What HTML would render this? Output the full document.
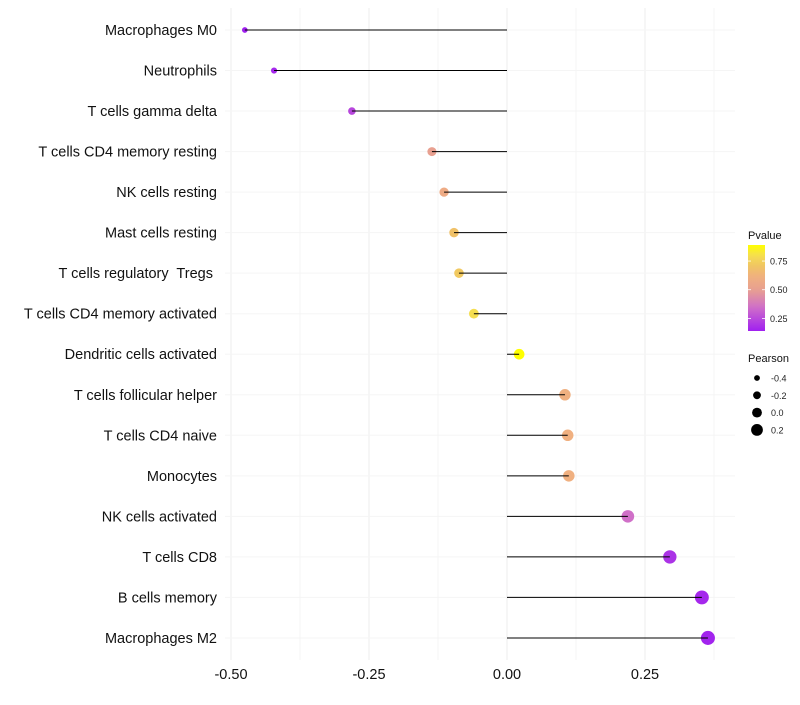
<!DOCTYPE html>
<html><head><meta charset="utf-8"><style>
body{margin:0;background:#fff;font-family:"Liberation Sans",sans-serif}
text{white-space:pre}
</style></head><body>
<svg id="c" width="800" height="700" xmlns="http://www.w3.org/2000/svg"></svg>
<script>
const categories=["Macrophages M0","Neutrophils","T cells gamma delta","T cells CD4 memory resting","NK cells resting","Mast cells resting","T cells regulatory  Tregs ","T cells CD4 memory activated","Dendritic cells activated","T cells follicular helper","T cells CD4 naive","Monocytes","NK cells activated","T cells CD8","B cells memory","Macrophages M2"];
const pearson=[-0.475,-0.422,-0.281,-0.136,-0.114,-0.096,-0.087,-0.060,0.022,0.105,0.110,0.112,0.219,0.295,0.353,0.364];
const pvalue=[0.14,0.16,0.24,0.50,0.58,0.69,0.72,0.80,0.89,0.61,0.61,0.61,0.35,0.19,0.16,0.15];
const xTicks=[-0.5,-0.25,0,0.25];
const xTickLabels=["-0.50","-0.25","0.00","0.25"];
const pTicks=[0.25,0.5,0.75];
const pTickLabels=["0.25","0.50","0.75"];
const sizeTicks=[-0.4,-0.2,0,0.2];
const sizeTickLabels=["-0.4","-0.2","0.0","0.2"];

const svg=document.getElementById('c');
const NS="http://www.w3.org/2000/svg";
function el(t,a,p){const e=document.createElementNS(NS,t);for(const k in a)e.setAttribute(k,a[k]);(p||svg).appendChild(e);return e;}
const x=v=>507+v*552;
const y=i=>30+i*40.53;
const r=v=>5.2+v*5;
const pMin=0.14,pMax=0.89;
const cStops=[[0,[160,32,240]],[0.28,[208,112,200]],[0.48,[232,160,144]],[0.63,[240,176,128]],[0.75,[240,196,100]],[0.88,[245,222,80]],[1,[255,255,0]]];
function col(p){let t=(p-pMin)/(pMax-pMin);t=Math.max(0,Math.min(1,t));
 for(let k=1;k<cStops.length;k++){if(t<=cStops[k][0]){const [t0,a]=cStops[k-1],[t1,b]=cStops[k];const u=(t-t0)/(t1-t0);
  return `rgb(${a.map((c,i)=>Math.round(c+(b[i]-c)*u)).join(',')})`;}}
 return 'rgb(255,255,0)';}
const py=p=>331-(p-pMin)/(pMax-pMin)*86;

[-0.5,-0.375,-0.25,-0.125,0,0.125,0.25,0.375].forEach(v=>{
 const g=el('line',{x1:x(v),x2:x(v),y1:8,y2:660,stroke:'#ededed','stroke-width':(v*8)%2===0?1:0.6});
 
 
});
categories.forEach((c,i)=>{
 const g=el('line',{x1:225,x2:735,y1:y(i),y2:y(i),stroke:'#f5f5f5','stroke-width':1});
 
 
});
categories.forEach((c,i)=>{
 const d=el('circle',{cx:x(pearson[i]),cy:y(i),r:r(pearson[i]),fill:col(pvalue[i])});
 
 
 const s=el('line',{x1:x(0),x2:x(pearson[i]),y1:y(i),y2:y(i),stroke:'#000','stroke-width':1});
 
 
 const l=el('text',{x:217,y:y(i)+5,'text-anchor':'end','font-size':14.5,fill:'#111'});
 l.textContent=c;
 
 
});
xTicks.forEach((v,i)=>{
 const t=el('text',{x:x(v),y:679,'text-anchor':'middle','font-size':14.5,fill:'#111'});
 t.textContent=xTickLabels[i];
 
 
});
const defs=el('defs',{});
const lg=el('linearGradient',{id:'pg',x1:0,y1:1,x2:0,y2:0},defs);
for(let k=0;k<=20;k++){el('stop',{offset:k/20,'stop-color':col(pMin+(pMax-pMin)*k/20)},lg);}
const lt=el('text',{x:748,y:239,'font-size':11,fill:'#111'});lt.textContent='Pvalue';


const bar=el('rect',{x:748,y:245,width:17,height:86,fill:'url(#pg)'});


pTicks.forEach((p,i)=>{
 el('line',{x1:748,x2:751,y1:py(p),y2:py(p),stroke:'#fff','stroke-width':0.8});
 el('line',{x1:762,x2:765,y1:py(p),y2:py(p),stroke:'#fff','stroke-width':0.8});
 const t=el('text',{x:770,y:py(p)+3.5,'font-size':9,fill:'#222'});t.textContent=pTickLabels[i];
 
 
});
const st=el('text',{x:748,y:362,'font-size':11,fill:'#111'});st.textContent='Pearson';


sizeTicks.forEach((v,i)=>{
 const cy=378+i*17.3;
 const c=el('circle',{cx:757,cy:cy,r:r(v)-0.3,fill:'#000'});
 
 
 const t=el('text',{x:771,y:cy+3.5,'font-size':9,fill:'#222'});t.textContent=sizeTickLabels[i];
 
 
});
</script>
</body></html>
